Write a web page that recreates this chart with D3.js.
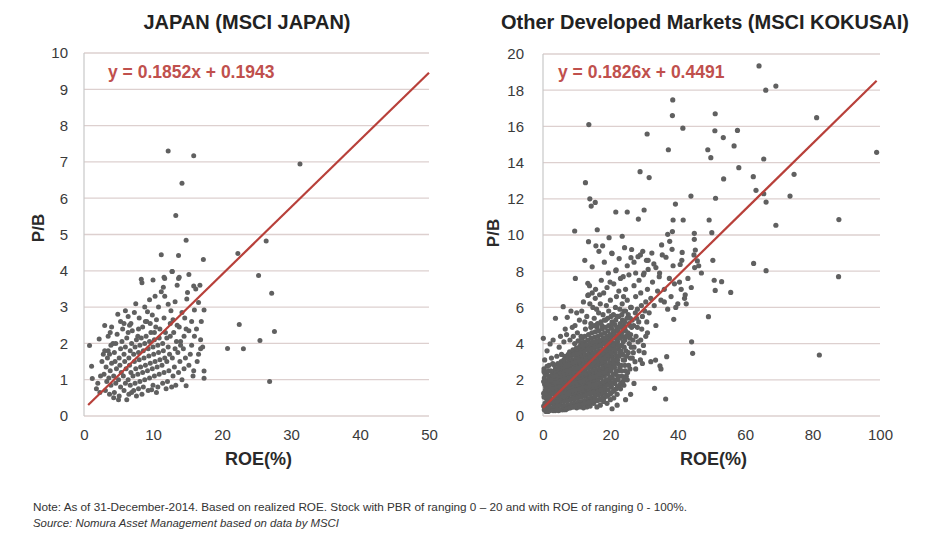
<!DOCTYPE html>
<html><head><meta charset="utf-8">
<script src="https://cdn.jsdelivr.net/npm/d3@7/dist/d3.min.js"></script>
<style>
body{margin:0;background:#fff;}
svg{display:block;}
text{font-family:"Liberation Sans",Arial,sans-serif;}
</style></head>
<body>
<svg id="chart" width="933" height="538"></svg>
<script>
// ---------- DATA ----------
const japanTitle = "JAPAN (MSCI JAPAN)";
const kokusaiTitle = "Other Developed Markets (MSCI KOKUSAI)";
const japanEquation = "y = 0.1852x + 0.1943";
const kokusaiEquation = "y = 0.1826x + 0.4491";
const japanFit = {slope: 0.1852, intercept: 0.1943, from: 0.6, to: 50};
const kokusaiFit = {slope: 0.1826, intercept: 0.4491, from: 0, to: 99};
const japanXTicks = [0, 10, 20, 30, 40, 50];
const japanYTicks = [0,1,2,3,4,5,6,7,8,9,10];
const kokusaiXTicks = [0, 20, 40, 60, 80, 100];
const kokusaiYTicks = [0,2,4,6,8,10,12,14,16,18,20];
const noteText = "Note: As of 31-December-2014. Based on realized ROE. Stock with PBR of ranging 0 \u2013 20 and  with ROE of ranging 0 - 100%.";
const sourceText = "Source: Nomura Asset Management based on data by MSCI";

// JAPAN: [ROE %, P/B]
const japanPoints = [
[12.2,7.3],[15.9,7.17],[31.3,6.94],[14.2,6.41],[13.3,5.52],[14.8,4.84],[26.4,4.82],[11.2,4.44],[13.7,4.42],[17.3,4.31],[22.3,4.48],
[25.3,3.87],[27.2,3.38],[27.6,2.33],[22.5,2.52],[25.5,2.08],[20.8,1.86],[23.1,1.85],[26.9,0.95],[17.4,2.92],[17.4,1.24],[17.4,1.04],
[14.8,0.83],[0.8,1.94],[1.1,1.37],[1.2,1.03],[2.2,2.12],[3.0,2.49],[4.9,2.8],[7.5,3.09],[8.4,3.67],[10.0,3.75],[11.7,3.79],[12.8,3.98],
[13.7,3.79],[15.9,3.58],[11.2,3.42],[11.7,3.3],[14.9,3.22],[16.6,3.13],[16.0,2.92],[12.2,3.08],[9.2,2.87],[9.9,2.78],[6.4,2.74],
[12.75,3.98],[11.6,3.82],[13.8,3.82],[8.3,3.77],[15.2,3.9],[16.8,3.6],
[5.3,2.6],[5.8,2.55],[6.6,2.5],[7.0,2.35],[7.8,2.2],[8.5,2.45],[9.1,2.6],[9.6,2.55],[10.5,2.65],[11.0,2.4],[11.6,2.7],[12.5,2.55],
[13.0,2.3],[13.8,2.45],[14.5,2.2],[15.2,2.35],[15.6,2.6],[16.3,2.4],[16.9,2.1],[14.0,2.05],[12.0,2.15],[10.2,2.3],[8.0,2.7],[7.3,2.85],
[6.0,2.9],[9.5,3.2],[10.8,3.0],[13.2,3.15],[14.2,2.85],[15.0,3.4],[16.2,3.5],[12.6,2.9],[11.5,3.55],[13.5,3.6],[3.8,2.3],[4.2,2.0],
[2.8,1.7],[3.5,1.8],[17.2,1.9],[16.6,1.7],[17.0,2.6],[15.9,1.25],[14.6,2.7],[12.9,2.65],[10.3,3.3],[8.8,3.0],
[3.1,0.7],[3.3,0.95],[2.9,1.15],[3.2,1.35],[3.4,1.6],[3.0,1.8],
[3.7,0.6],[3.9,0.85],[3.6,1.05],[3.8,1.25],[4.0,1.45],[3.7,1.7],[3.9,1.95],
[4.4,0.65],[4.6,0.9],[4.3,1.1],[4.7,1.3],[4.5,1.5],[4.4,1.75],[4.6,2.0],[4.8,2.25],
[5.1,0.55],[5.3,0.8],[5.0,1.0],[5.4,1.2],[5.2,1.4],[5.1,1.6],[5.3,1.85],[5.5,2.05],
[5.8,0.7],[6.0,0.9],[5.7,1.1],[6.1,1.3],[5.9,1.5],[5.8,1.7],[6.0,1.9],[6.2,2.15],
[6.5,0.6],[6.7,0.85],[6.4,1.0],[6.8,1.2],[6.6,1.4],[6.5,1.6],[6.7,1.8],[6.9,2.0],[6.4,2.3],
[7.2,0.7],[7.4,0.9],[7.1,1.1],[7.5,1.3],[7.3,1.5],[7.2,1.7],[7.4,1.9],[7.6,2.1],
[7.9,0.75],[8.1,0.95],[7.8,1.15],[8.2,1.35],[8.0,1.55],[7.9,1.75],[8.1,1.95],[8.3,2.15],
[8.6,0.8],[8.8,1.0],[8.5,1.2],[8.9,1.4],[8.7,1.6],[8.6,1.8],[8.8,2.0],[9.0,2.2],
[9.3,0.7],[9.5,1.05],[9.2,1.25],[9.6,1.45],[9.4,1.65],[9.3,1.85],[9.5,2.05],[9.7,2.3],
[10.0,0.85],[10.2,1.1],[9.9,1.3],[10.3,1.5],[10.1,1.7],[10.0,1.9],[10.2,2.1],
[10.7,0.8],[10.9,1.15],[10.6,1.35],[11.0,1.55],[10.8,1.75],[10.7,1.95],[10.9,2.15],
[11.4,0.9],[11.6,1.2],[11.3,1.4],[11.7,1.6],[11.5,1.8],[11.4,2.0],
[12.1,0.95],[12.3,1.25],[12.0,1.5],[12.4,1.7],[12.2,1.9],[12.5,2.2],
[12.9,1.1],[13.1,1.35],[12.8,1.6],[13.2,1.85],[13.4,2.05],
[13.7,1.2],[13.9,1.5],[13.6,1.75],[14.0,1.95],
[14.5,1.3],[14.7,1.6],[14.4,1.85],
[15.2,1.4],[15.4,1.7],[15.6,1.95],
[2.0,0.9],[2.4,1.1],[2.6,1.5],[1.8,0.75],[2.3,0.65],[5.0,0.45],[6.2,0.45],[9.8,0.72],[11.9,0.75],[12.7,0.8],[13.3,0.85],
[14.2,1.0],[15.8,1.1],[16.4,1.5],[16.9,1.85],[3.5,2.2],[4.0,2.45],[5.6,2.4],[6.8,2.55],[7.9,2.4],[8.9,2.6],[10.4,2.45],
[11.8,2.3],[13.5,2.5],[14.8,2.4],[16.0,2.2],[4.3,0.5],[7.6,0.55],[8.4,0.6],[10.5,0.65],[6.9,0.65]
];

// KOKUSAI: [ROE %, P/B]
const kokusaiPoints = [
// outliers
[64.1,19.34],[66.1,18.0],[69.1,18.23],[38.5,17.46],[38.4,16.6],[51.1,16.7],[13.6,16.1],[41.5,15.9],[30.9,15.58],[51.0,15.76],
[57.7,15.78],[53.5,15.38],[37.2,14.71],[48.9,14.71],[56.7,14.92],[49.8,14.27],[65.5,14.2],[81.2,16.48],[99.0,14.57],[58.1,13.72],
[74.5,13.35],[28.8,13.5],[31.5,13.17],[53.6,13.1],[62.4,13.22],[12.6,12.89],[63.2,12.47],[65.5,12.28],[73.3,12.15],[43.9,12.15],
[51.2,12.03],[13.9,12.0],[14.3,11.6],[15.5,11.8],[39.3,11.71],[66.2,11.82],[69.1,10.54],[87.8,10.85],[21.6,11.27],[25.0,11.27],
[30.0,11.38],[28.3,10.88],[9.4,10.22],[16.1,10.29],[13.5,9.63],[15.7,9.4],[17.7,9.4],[19.6,9.85],[23.5,9.93],[20.5,8.97],
[12.4,8.6],[14.6,8.24],[21.7,8.08],[38.6,10.83],[41.6,10.83],[38.4,10.19],[37.0,10.04],[35.2,9.45],[38.3,9.21],[41.3,9.04],
[36.5,8.77],[44.9,10.09],[44.9,9.76],[45.2,9.17],[50.1,10.13],[49.3,10.83],[50.4,8.6],[45.8,8.57],[40.7,8.37],[62.5,8.43],
[66.2,8.03],[87.7,7.7],[29.6,9.1],[28.9,8.9],[32.3,9.0],[27.0,8.5],[31.2,8.6],[9.6,7.6],[82.0,3.37],[55.7,6.83],[51.1,6.94],
[53.0,7.42],[50.8,7.5],[49.1,5.49],[44.1,4.1],[44.4,3.46],[36.7,3.28],[33.4,3.09],[34.7,2.77],[33.1,1.53],[36.4,0.94],[38.8,5.34],
[3.7,5.4],[6.0,6.04],[8.3,5.8],[0.1,4.29],[2.1,3.98],[37.6,9.65],[33.5,8.2],[26.1,8.75],[24.2,9.3],
// upper cloud
[13.3,7.33],[13.3,6.66],[13.9,6.2],[21.6,8.03],[23.8,7.7],[27.5,7.9],[29.8,7.8],[31.2,8.1],[34.6,7.9],[37.5,7.6],[40.5,7.4],
[42.2,6.7],[42.5,6.2],[39.4,6.0],[36.0,6.3],[30.7,8.6],[25.0,8.3],[19.4,7.9],[17.3,7.5],[15.6,7.0],[28.2,8.8],[32.9,8.4],
[35.4,8.9],[38.6,8.3],[41.2,8.6],[44.8,8.9],[46.2,8.3],[18.2,8.5],[20.4,9.0],[22.6,8.7],[26.3,9.2],[16.6,9.1],
// halo
[0.3,2.6],[0.5,3.1],[1.2,3.6],[1.8,2.8],[2.5,3.2],[3.0,4.2],[7.2,5.45],[5.5,3.4],[4.8,3.8],[6.2,4.1],[7.0,4.5],[8.0,4.2],
[9.0,4.4],[9.5,5.0],[10.2,4.6],[10.8,5.3],[11.5,5.8],[12.0,6.3],[12.6,4.8],[13.0,5.5],[13.5,6.7],[13.8,7.2],[14.2,5.1],[14.8,6.0],
[15.2,5.4],[15.5,6.5],[16.0,4.9],[16.5,5.7],[17.0,6.2],[17.5,5.0],[18.0,6.8],[18.6,5.3],[19.0,7.1],[19.5,5.8],[20.0,6.4],[20.5,5.2],
[21.0,7.3],[21.5,6.0],[22.0,5.5],[22.5,6.9],[23.0,7.6],[23.5,6.2],[24.0,5.8],[24.5,7.0],[25.0,6.4],[25.5,7.8],[26.0,6.0],[26.5,5.3],
[27.0,7.2],[27.5,6.6],[28.0,5.9],[28.5,7.5],[29.0,6.8],[29.5,5.5],[30.0,7.9],[30.5,6.3],[31.0,7.0],[31.5,5.7],[32.0,6.5],[32.5,7.4],
[33.0,6.1],[33.5,5.0],[34.0,6.9],[34.5,7.7],[35.0,6.4],[36.0,7.0],[37.0,5.9],[38.0,6.6],[39.0,7.3],[40.0,6.2],[41.0,7.0],[42.0,6.5],
[43.0,7.6],[44.0,7.1],[45.0,8.2],[47.0,7.9],[26.0,4.5],[27.0,3.8],[28.0,4.9],[29.0,4.2],[30.0,3.5],[31.0,4.6],[32.0,3.0],[26.5,3.2],
[27.5,2.6],[28.5,3.6],[29.5,2.9],[25.0,2.0],[24.0,1.7],[23.0,1.5],[22.0,1.2],[21.0,1.0],[20.0,0.9],[19.0,0.7],[18.0,0.8],[17.0,0.6],
[16.0,0.5],[15.0,0.7],[14.0,0.55],[13.0,0.5],[12.0,0.45],[11.0,0.5],[10.0,0.45],[22.0,0.6],[24.5,0.9],[20.5,0.4],[27.0,1.8],[26.0,1.2],
[35.0,2.6],[30.8,5.2],[29.2,6.1],[27.8,5.4],[25.8,5.0],[24.7,4.4],[23.9,6.6],[22.8,5.9],[21.8,6.6],[20.9,5.6],[19.9,7.4],[18.8,6.1],
[17.8,5.6],[16.8,6.7],[15.9,5.9],[14.6,6.8],[12.4,5.2],[11.3,4.4],[10.0,5.7],[8.7,4.9],[6.6,4.8],[5.2,4.4],[4.1,3.3],[2.9,2.9],
// dense core, layer 1
[0.4,0.35],[0.6,0.7],[0.3,1.05],[0.7,1.4],[0.5,1.75],[0.4,2.1],[0.8,0.5],[0.9,1.0],
[1.3,0.4],[1.5,0.85],[1.2,1.2],[1.6,1.6],[1.4,1.95],[1.1,2.3],[1.7,0.6],[1.9,1.35],
[2.3,0.45],[2.5,0.9],[2.2,1.15],[2.6,1.5],[2.4,1.85],[2.1,2.2],[2.8,0.7],[2.9,1.7],[2.7,2.45],
[3.3,0.5],[3.5,0.95],[3.2,1.3],[3.6,1.65],[3.4,2.0],[3.1,2.35],[3.8,0.75],[3.9,1.45],[3.7,2.6],
[4.3,0.55],[4.5,1.0],[4.2,1.35],[4.6,1.7],[4.4,2.05],[4.1,2.4],[4.8,0.8],[4.9,1.5],[4.7,2.7],
[5.3,0.6],[5.5,1.05],[5.2,1.4],[5.6,1.8],[5.4,2.15],[5.1,2.5],[5.8,0.85],[5.9,1.6],[5.7,2.85],
[6.3,0.55],[6.5,1.1],[6.2,1.45],[6.6,1.85],[6.4,2.2],[6.1,2.6],[6.8,0.9],[6.9,1.65],[6.7,2.95],[6.5,3.3],
[7.3,0.6],[7.5,1.15],[7.2,1.5],[7.6,1.9],[7.4,2.3],[7.1,2.7],[7.8,0.95],[7.9,1.7],[7.7,3.05],[7.5,3.4],
[8.3,0.65],[8.5,1.2],[8.2,1.55],[8.6,1.95],[8.4,2.35],[8.1,2.75],[8.8,1.0],[8.9,1.75],[8.7,3.1],[8.5,3.5],
[9.3,0.7],[9.5,1.25],[9.2,1.6],[9.6,2.0],[9.4,2.4],[9.1,2.8],[9.8,1.05],[9.9,1.8],[9.7,3.2],[9.5,3.55],
[10.3,0.75],[10.5,1.3],[10.2,1.65],[10.6,2.05],[10.4,2.45],[10.1,2.85],[10.8,1.1],[10.9,1.85],[10.7,3.25],[10.5,3.65],
[11.3,0.8],[11.5,1.35],[11.2,1.7],[11.6,2.1],[11.4,2.5],[11.1,2.9],[11.8,1.15],[11.9,1.9],[11.7,3.3],[11.5,3.7],[11.3,4.05],
[12.3,0.85],[12.5,1.4],[12.2,1.75],[12.6,2.15],[12.4,2.55],[12.1,2.95],[12.8,1.2],[12.9,2.0],[12.7,3.35],[12.5,3.75],[12.3,4.1],
[13.3,0.95],[13.5,1.45],[13.2,1.85],[13.6,2.25],[13.4,2.65],[13.1,3.05],[13.8,1.25],[13.9,2.05],[13.7,3.45],[13.5,3.85],[13.3,4.2],
[14.3,1.0],[14.5,1.5],[14.2,1.9],[14.6,2.3],[14.4,2.7],[14.1,3.1],[14.8,1.3],[14.9,2.1],[14.7,3.5],[14.5,3.9],[14.3,4.3],
[15.3,1.05],[15.5,1.55],[15.2,1.95],[15.6,2.35],[15.4,2.75],[15.1,3.15],[15.8,1.35],[15.9,2.15],[15.7,3.55],[15.5,3.95],[15.3,4.35],
[16.3,1.15],[16.5,1.6],[16.2,2.0],[16.6,2.4],[16.4,2.8],[16.1,3.2],[16.8,1.4],[16.9,2.2],[16.7,3.6],[16.5,4.0],[16.3,4.4],
[17.3,1.2],[17.5,1.7],[17.2,2.1],[17.6,2.5],[17.4,2.9],[17.1,3.3],[17.8,1.5],[17.9,2.3],[17.7,3.7],[17.5,4.1],[17.3,4.5],
[18.3,1.3],[18.5,1.8],[18.2,2.2],[18.6,2.6],[18.4,3.0],[18.1,3.4],[18.9,2.4],[18.7,3.8],[18.5,4.2],[18.3,4.6],
[19.3,1.45],[19.5,1.95],[19.2,2.35],[19.6,2.75],[19.4,3.15],[19.1,3.55],[19.8,2.5],[19.7,3.9],[19.5,4.3],[19.3,4.7],
[20.3,1.6],[20.5,2.1],[20.2,2.5],[20.6,2.9],[20.4,3.3],[20.1,3.7],[20.8,2.7],[20.7,4.05],[20.5,4.45],[20.3,4.85],
[21.3,1.8],[21.5,2.3],[21.2,2.7],[21.6,3.1],[21.4,3.5],[21.1,3.9],[21.7,4.3],[21.5,4.7],[21.3,5.05],
[22.3,2.0],[22.5,2.5],[22.2,2.9],[22.6,3.3],[22.4,3.7],[22.1,4.1],[22.7,4.5],[22.5,4.9],
[23.4,2.2],[23.2,2.8],[23.6,3.4],[23.3,3.9],[23.5,4.4],[23.2,4.9],[23.6,5.3],
[24.4,2.5],[24.2,3.1],[24.6,3.6],[24.3,4.2],[24.5,4.7],[24.2,5.2],
[25.4,2.8],[25.3,3.5],[25.6,4.0],[25.2,4.6],[25.5,5.1],[25.3,5.6],
// dense core, layer 2
[0.2,0.55],[0.9,0.25],[0.2,1.25],[0.8,1.6],[0.2,1.9],[0.7,2.3],[0.3,2.45],[1.0,0.75],
[1.0,1.5],[1.5,0.25],[1.8,1.05],[1.3,1.75],[1.8,2.1],[1.6,2.5],[1.2,2.75],
[2.0,0.3],[2.2,0.8],[2.7,1.3],[2.1,1.65],[2.6,2.0],[2.3,2.5],[2.9,2.25],
[3.0,0.3],[3.6,0.3],[3.2,0.75],[3.7,1.15],[3.1,1.5],[3.6,1.85],[3.3,2.2],[3.8,2.4],[3.4,2.8],
[4.0,0.35],[4.6,0.3],[4.2,0.8],[4.7,1.2],[4.1,1.55],[4.7,1.9],[4.3,2.25],[4.9,2.45],[4.4,2.9],
[5.0,0.35],[5.6,0.35],[5.2,0.85],[5.7,1.25],[5.1,1.6],[5.7,2.0],[5.3,2.35],[5.9,2.6],[5.4,3.0],
[6.0,0.35],[6.7,0.35],[6.3,0.8],[6.8,1.3],[6.1,1.65],[6.8,2.05],[6.3,2.45],[6.9,2.75],[6.2,3.1],
[7.1,0.4],[7.7,0.45],[7.3,0.85],[7.8,1.3],[7.1,1.7],[7.8,2.1],[7.2,2.5],[7.9,2.85],[7.3,3.2],[7.9,3.55],
[8.1,0.45],[8.7,0.5],[8.3,0.9],[8.8,1.4],[8.1,1.75],[8.8,2.15],[8.3,2.55],[8.9,2.95],[8.2,3.3],[8.9,3.65],
[9.1,0.5],[9.7,0.55],[9.3,0.95],[9.8,1.45],[9.1,1.8],[9.8,2.2],[9.3,2.6],[9.9,3.0],[9.2,3.4],[9.9,3.75],[9.4,4.0],
[10.1,0.55],[10.7,0.6],[10.3,1.0],[10.8,1.5],[10.1,1.85],[10.8,2.25],[10.3,2.65],[10.9,3.05],[10.2,3.45],[10.9,3.85],[10.4,4.15],
[11.1,0.6],[11.7,0.65],[11.3,1.05],[11.8,1.55],[11.1,1.9],[11.8,2.3],[11.3,2.7],[11.9,3.1],[11.2,3.5],[11.9,3.9],[11.5,4.3],
[12.1,0.65],[12.7,0.7],[12.3,1.1],[12.8,1.6],[12.1,1.95],[12.8,2.35],[12.3,2.75],[12.9,3.15],[12.2,3.55],[12.9,3.95],[12.4,4.4],
[13.1,0.7],[13.7,0.75],[13.3,1.2],[13.8,1.65],[13.1,2.05],[13.8,2.45],[13.3,2.85],[13.9,3.25],[13.2,3.65],[13.9,4.05],[13.5,4.5],
[14.1,0.75],[14.7,0.8],[14.3,1.25],[14.8,1.7],[14.1,2.1],[14.8,2.5],[14.3,2.9],[14.9,3.3],[14.2,3.7],[14.9,4.1],[14.5,4.6],[14.2,4.9],
[15.1,0.8],[15.7,0.85],[15.3,1.3],[15.8,1.75],[15.1,2.15],[15.8,2.55],[15.3,2.95],[15.9,3.35],[15.2,3.75],[15.9,4.15],[15.5,4.65],[15.2,5.0],
[16.1,0.85],[16.7,0.9],[16.3,1.35],[16.8,1.8],[16.1,2.2],[16.8,2.6],[16.3,3.0],[16.9,3.4],[16.2,3.8],[16.9,4.2],[16.5,4.7],[16.2,5.1],
[17.1,0.9],[17.7,1.0],[17.3,1.45],[17.8,1.9],[17.1,2.3],[17.8,2.7],[17.3,3.1],[17.9,3.5],[17.2,3.9],[17.9,4.3],[17.5,4.8],[17.2,5.2],
[18.1,1.0],[18.7,1.1],[18.3,1.55],[18.8,2.0],[18.1,2.4],[18.8,2.8],[18.3,3.2],[18.9,3.6],[18.2,4.0],[18.9,4.4],[18.5,4.9],[18.2,5.3],
[19.1,1.1],[19.7,1.2],[19.3,1.7],[19.8,2.15],[19.1,2.55],[19.8,2.95],[19.3,3.35],[19.9,3.75],[19.2,4.1],[19.9,4.5],[19.5,5.0],[19.2,5.4],
[20.1,1.25],[20.7,1.35],[20.3,1.85],[20.8,2.3],[20.1,2.7],[20.8,3.1],[20.3,3.5],[20.9,3.9],[20.2,4.25],[20.9,4.65],[20.5,5.1],[20.2,5.5],
[21.1,1.4],[21.7,1.5],[21.3,2.0],[21.8,2.5],[21.1,2.9],[21.8,3.3],[21.3,3.7],[21.9,4.1],[21.2,4.5],[21.9,4.9],[21.6,5.3],
[22.1,1.6],[22.7,1.7],[22.3,2.2],[22.8,2.7],[22.1,3.1],[22.8,3.5],[22.3,3.9],[22.9,4.3],[22.2,4.7],[22.9,5.1],[22.5,5.5],
[23.1,1.8],[23.7,1.9],[23.3,2.5],[23.8,3.1],[23.1,3.6],[23.8,4.1],[23.3,4.6],[23.9,5.0],[23.4,5.6],
[24.1,2.0],[24.7,2.2],[24.3,2.8],[24.8,3.3],[24.1,3.8],[24.8,4.4],[24.3,4.9],[24.9,5.4],[24.5,5.8],
[25.1,2.4],[25.8,2.6],[25.9,3.2],[26.2,3.8],[25.8,4.3],[26.3,4.9],[25.9,5.4],[26.2,6.0],[26.8,3.5],[26.7,4.2],[26.9,5.0],
[27.3,3.0],[27.6,4.4],[27.4,5.7],[28.2,4.1],[28.4,5.2],[28.9,3.1],[29.3,4.8],[29.8,3.9],[30.5,4.4],[30.2,5.8]
];

// ---------- DRAW ----------
const svg = d3.select("#chart");
const gridColor = "#ddd0cf";
const dotColor = "#606060";
const lineColor = "#b8403a";
const eqColor = "#c0504d";

function panel(opt){
  const x = d3.scaleLinear().domain(opt.xDomain).range([opt.left, opt.right]);
  const y = d3.scaleLinear().domain(opt.yDomain).range([opt.bottom, opt.top]);
  const g = svg.append("g");
  g.selectAll("line.grid").data(opt.yTicks).join("line")
    .attr("x1", opt.left).attr("x2", opt.right)
    .attr("y1", d => y(d)).attr("y2", d => y(d))
    .attr("stroke", gridColor).attr("stroke-width", 1.3);
  g.append("line").attr("x1", opt.left).attr("x2", opt.left)
    .attr("y1", y(opt.yDomain[0])).attr("y2", y(opt.yDomain[1]))
    .attr("stroke", "#c8c8c8").attr("stroke-width", 1.2);
  const ya = d3.axisLeft(y).tickValues(opt.yTicks).tickSize(0).tickPadding(opt.yPad).tickFormat(d3.format("d"));
  const yg = g.append("g").attr("transform", `translate(${opt.left},0)`).call(ya);
  yg.select(".domain").remove();
  yg.selectAll("text").attr("font-size", 15).attr("fill", "#3a3a3a").attr("font-family", "Liberation Sans, Arial, sans-serif");
  const xa = d3.axisBottom(x).tickValues(opt.xTicks).tickSize(0).tickPadding(13).tickFormat(d3.format("d"));
  const xg = g.append("g").attr("transform", `translate(0,${opt.bottom})`).call(xa);
  xg.select(".domain").remove();
  xg.selectAll("text").attr("font-size", 15).attr("fill", "#3a3a3a").attr("font-family", "Liberation Sans, Arial, sans-serif");
  g.selectAll("circle").data(opt.points).join("circle")
    .attr("cx", d => x(d[0])).attr("cy", d => y(d[1]))
    .attr("r", opt.r).attr("fill", dotColor);
  const f = opt.fit;
  g.append("line")
    .attr("x1", x(f.from)).attr("y1", y(f.slope*f.from + f.intercept))
    .attr("x2", x(f.to)).attr("y2", y(f.slope*f.to + f.intercept))
    .attr("stroke", lineColor).attr("stroke-width", 2.2);
  g.append("text").attr("x", opt.eqX).attr("y", opt.eqY).text(opt.eq)
    .attr("font-size", 17.5).attr("fill", eqColor).attr("font-weight", 600);
  g.append("text").attr("x", opt.titleX).attr("y", 29).attr("text-anchor", "middle")
    .attr("font-size", 20).attr("font-weight", "bold").attr("fill", "#222").text(opt.title);
  g.append("text").attr("x", (opt.left + opt.right)/2 + 2).attr("y", 465).attr("text-anchor", "middle")
    .attr("font-size", 18).attr("font-weight", "bold").attr("fill", "#2a2a2a").text("ROE(%)");
  g.append("text").attr("transform", `translate(${opt.pbX},${opt.pbY}) rotate(-90)`)
    .attr("text-anchor", "middle").attr("dy", "0.35em")
    .attr("font-size", 17).attr("font-weight", "bold").attr("fill", "#2a2a2a").text("P/B");
}

panel({
  xDomain:[0,50], yDomain:[0,10], left:84, right:429, top:53, bottom:416,
  xTicks: japanXTicks, yTicks: japanYTicks, points: japanPoints, fit: japanFit,
  eq: japanEquation, eqX:108, eqY:78, title: japanTitle, titleX: 247,
  pbX: 38, pbY: 228, yPad: 16, r: 2.5
});
panel({
  xDomain:[0,100], yDomain:[0,20], left:543, right:880, top:54, bottom:416,
  xTicks: kokusaiXTicks, yTicks: kokusaiYTicks, points: kokusaiPoints, fit: kokusaiFit,
  eq: kokusaiEquation, eqX:558, eqY:78, title: kokusaiTitle, titleX: 705,
  pbX: 493, pbY: 233, yPad: 19, r: 2.6
});

svg.append("text").attr("x", 33).attr("y", 511).attr("font-size", 10.5)
  .attr("font-family", "Liberation Sans Narrow, Liberation Sans, Arial, sans-serif")
  .attr("fill", "#333").attr("textLength", 654).attr("lengthAdjust", "spacingAndGlyphs").text(noteText);
svg.append("text").attr("x", 33).attr("y", 527).attr("font-size", 10.5).attr("font-style", "italic")
  .attr("font-family", "Liberation Sans Narrow, Liberation Sans, Arial, sans-serif")
  .attr("fill", "#333").attr("textLength", 306).attr("lengthAdjust", "spacingAndGlyphs").text(sourceText);
</script>
</body></html>
